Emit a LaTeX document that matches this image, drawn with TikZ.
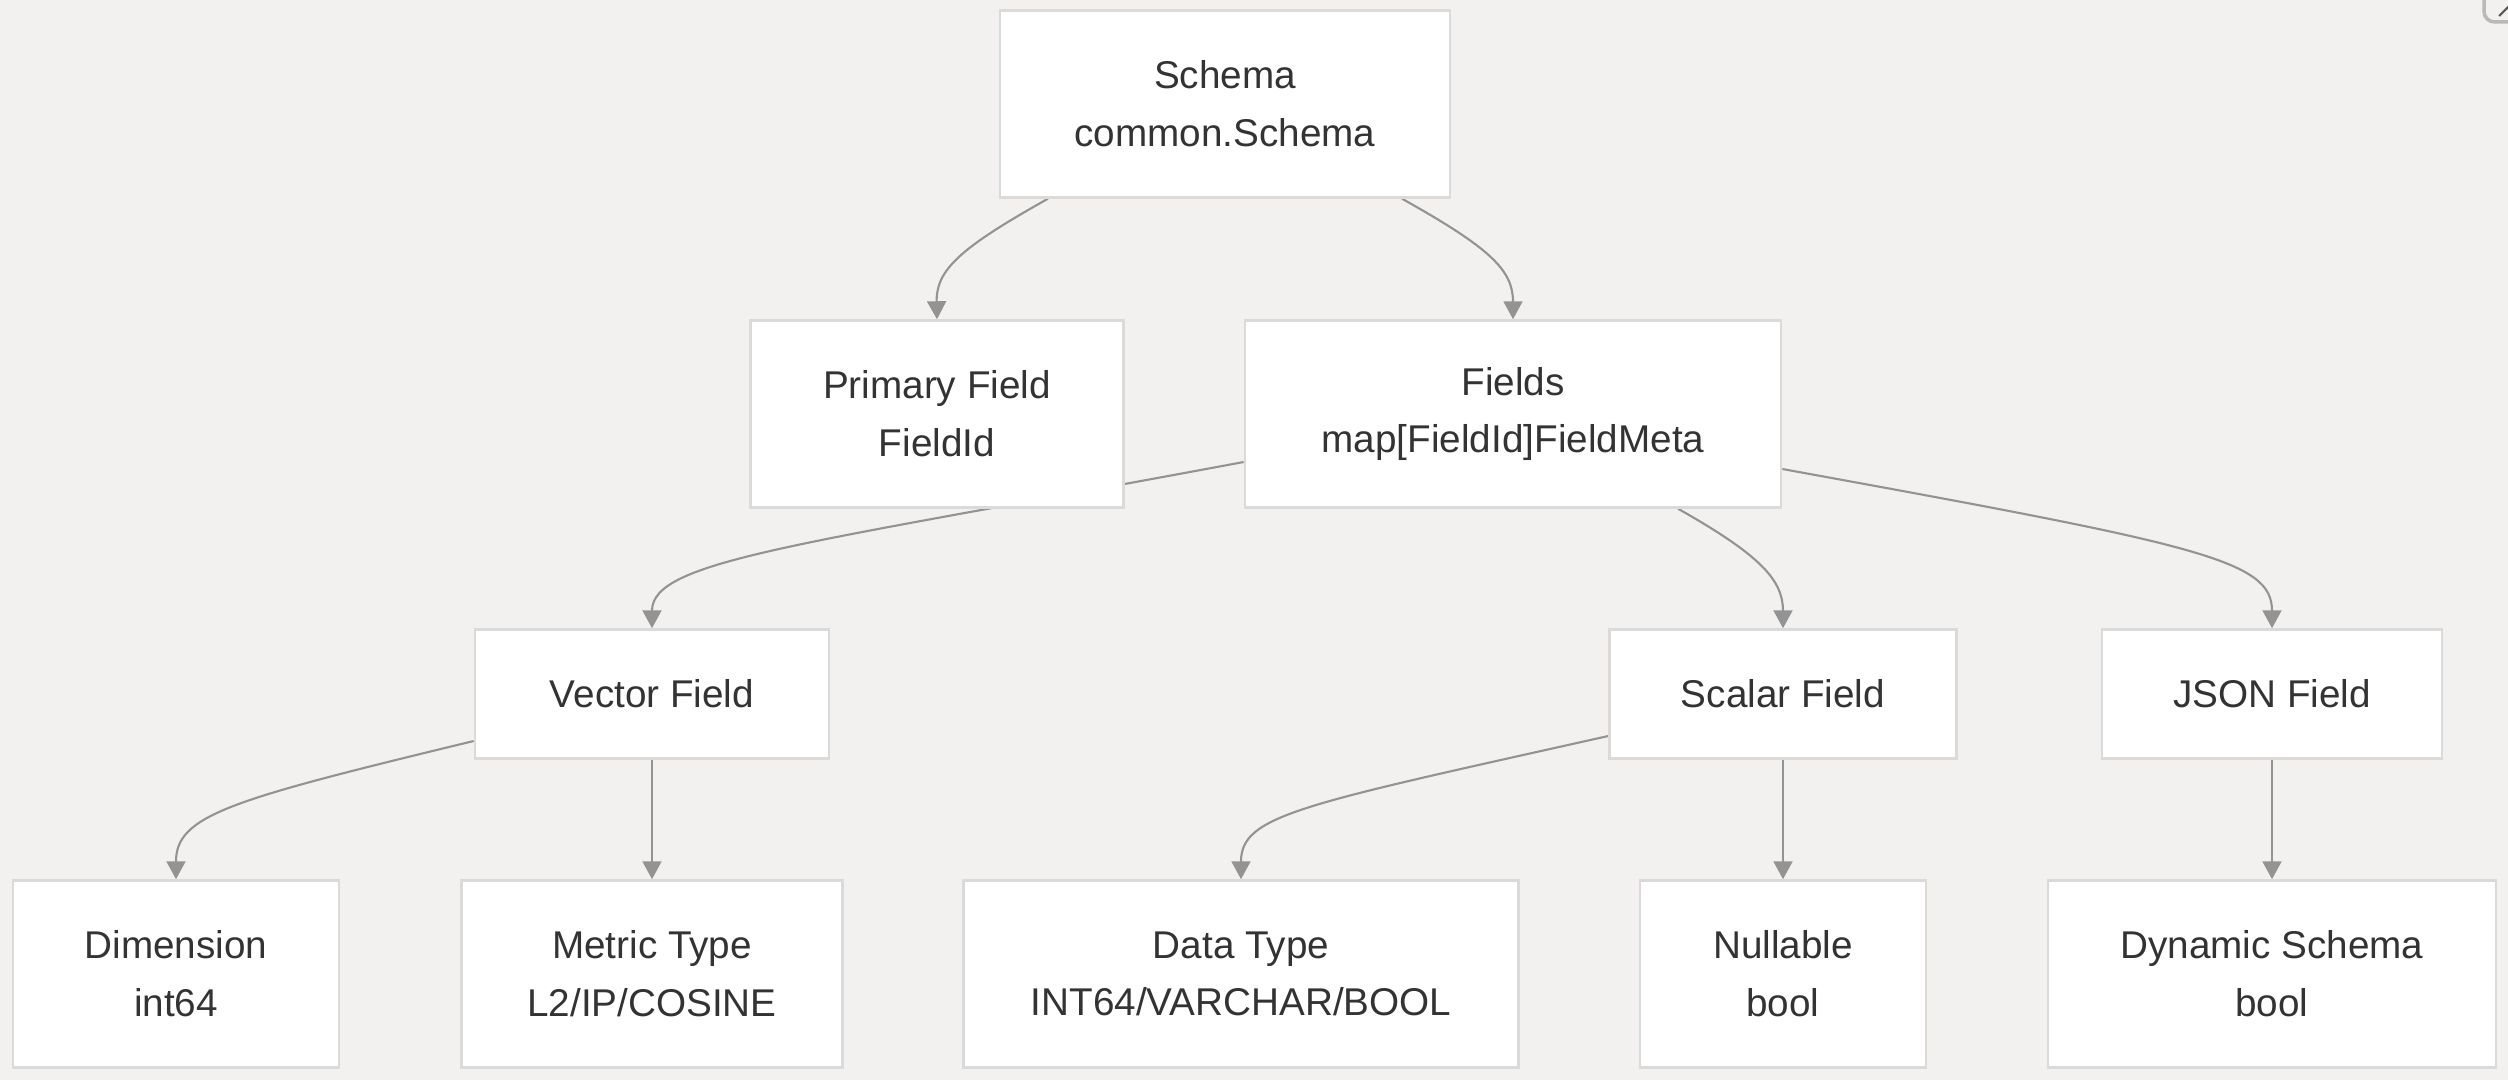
\documentclass[tikz,border=0pt]{standalone}
\usepackage{fontspec}
\setmainfont{Liberation Sans}
\usetikzlibrary{arrows.meta,backgrounds}
\definecolor{bgcol}{HTML}{F2F1EF}
\definecolor{boxline}{HTML}{DADADA}
\definecolor{edgecol}{HTML}{939393}
\definecolor{txtcol}{HTML}{333333}

\begin{document}
\begin{tikzpicture}[x=0.01cm,y=-0.01cm,
  box/.style={draw=boxline,line width=0.7pt,fill=white,inner sep=0pt,align=center,
    text=txtcol,font=\fontsize{11}{16.4}\selectfont},
  tall/.style={box,minimum height=1.87cm},
  short/.style={box,minimum height=1.29cm},
  link/.style={draw=edgecol,line width=0.6pt,-{Triangle[length=5.1pt,width=5.4pt]}}]

% Canvas
\useasboundingbox (0,0) rectangle (2508,1080);
\begin{pgfonlayer}{background}
\fill[bgcol] (0,0) rectangle (2508,1080);
\end{pgfonlayer}

% Corner button (cut by the page edge)
\draw[gray!55,line width=1pt,rounded corners=3pt] (2484,-20) rectangle (2540,22);
\draw[gray!70!black,line width=0.6pt] (2499,16) -- (2510,5);

% Top level
\node[tall,minimum width=4.5cm] (schema) at (1225,104) {Schema\\common.Schema};

% Second level
\node[tall,minimum width=3.73cm] (primary) at (937,414) {Primary Field\\FieldId};
\node[tall,minimum width=5.36cm] (fields) at (1513,414) {Fields\\map[FieldId]FieldMeta};

% Field kinds
\node[short,minimum width=3.54cm] (vector) at (652,694) {Vector Field};
\node[short,minimum width=3.47cm] (scalar) at (1783,694) {Scalar Field};
\node[short,minimum width=3.40cm] (json) at (2272,694) {JSON Field};

% Field properties
\node[tall,minimum width=3.26cm] (dim) at (176,974) {Dimension\\int64};
\node[tall,minimum width=3.81cm] (metric) at (652,974) {Metric Type\\L2/IP/COSINE};
\node[tall,minimum width=5.55cm] (dtype) at (1241,974) {Data Type\\INT64/VARCHAR/BOOL};
\node[tall,minimum width=2.86cm] (nullable) at (1783,974) {Nullable\\bool};
\node[tall,minimum width=4.48cm] (dynamic) at (2272,974) {Dynamic Schema\\bool};

% Connectors (kept behind the boxes)
\begin{pgfonlayer}{background}
\draw[link] ([xshift=-1.77cm]schema.south) .. controls (960,248) and (936,270) .. (primary.north);
\draw[link] ([xshift=1.77cm]schema.south) .. controls (1490,248) and (1513,270) .. (fields.north);
\draw[link] ([yshift=-0.48cm]fields.west) .. controls (800,545) and (652,560) .. (vector.north);
\draw[link] ([xshift=1.65cm]fields.south) .. controls (1760,555) and (1783,580) .. (scalar.north);
\draw[link] ([yshift=-0.55cm]fields.east) .. controls (2200,545) and (2272,560) .. (json.north);
\draw[link] ([yshift=-0.47cm]vector.west) .. controls (230,800) and (176,815) .. (dim.north);
\draw[link] (vector.south) -- (metric.north);
\draw[link] ([yshift=-0.42cm]scalar.west) .. controls (1300,805) and (1241,815) .. (dtype.north);
\draw[link] (scalar.south) -- (nullable.north);
\draw[link] (json.south) -- (dynamic.north);
\end{pgfonlayer}

\end{tikzpicture}
\end{document}
